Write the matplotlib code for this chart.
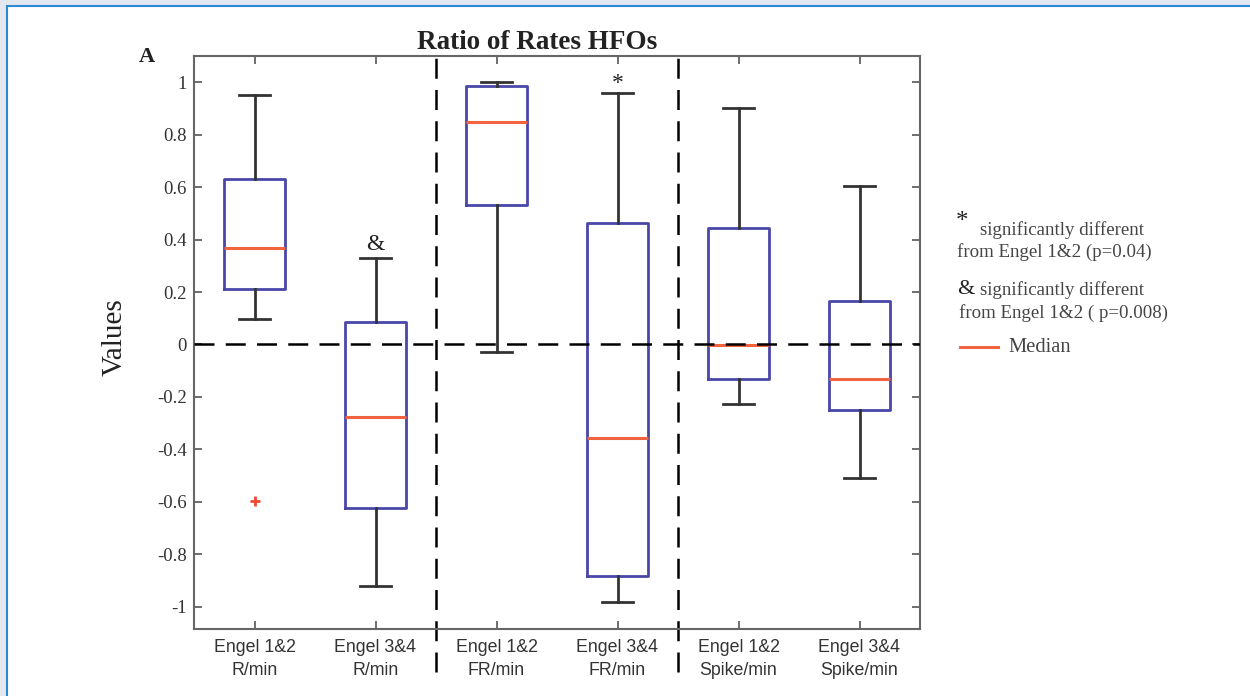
import matplotlib.pyplot as plt
from matplotlib.patches import Rectangle
from matplotlib.lines import Line2D

# values
groups = ["Engel 1&2\nR/min", "Engel 3&4\nR/min", "Engel 1&2\nFR/min",
          "Engel 3&4\nFR/min", "Engel 1&2\nSpike/min", "Engel 3&4\nSpike/min"]
whisker_low = [0.099, -0.92, -0.027, -0.983, -0.226, -0.51]
box_low = [0.21, -0.625, 0.533, -0.883, -0.13, -0.251]
medians = [0.366, -0.278, 0.849, -0.358, -0.003, -0.133]
box_high = [0.632, 0.084, 0.987, 0.465, 0.446, 0.164]
whisker_high = [0.952, 0.328, 1.0, 0.96, 0.90, 0.606]
outliers = [[-0.598], [], [], [], [], []]

yticks = [-1, -0.8, -0.6, -0.4, -0.2, 0, 0.2, 0.4, 0.6, 0.8, 1]
ytick_labels = ["-1", "-0.8", "-0.6", "-0.4", "-0.2", "0", "0.2", "0.4", "0.6", "0.8", "1"]
separators = [2.5, 4.5]
marks = [(2, 0.38, "&"), (4, 0.995, "*")]

box_col = "#4a47a8"
med_col = "#f2643f"
serif = ["Liberation Serif", "DejaVu Serif"]


def main():
    fig = plt.figure(figsize=(12.5, 6.96), dpi=100, facecolor="#e3e8f0")
    # white page with blue border like the source screenshot
    fig.patches.append(Rectangle((7 / 1250, -0.1), 1.2, 1.1 - 6 / 696, transform=fig.transFigure,
                                 facecolor="white", edgecolor="#2b8ad6", linewidth=1.5, zorder=-5))

    ax = fig.add_axes([0.1552, 0.0963, 0.5808, 0.8232])
    ax.set_facecolor("white")

    stats = []
    for i in range(len(groups)):
        stats.append(dict(med=medians[i], q1=box_low[i], q3=box_high[i],
                          whislo=whisker_low[i], whishi=whisker_high[i], fliers=outliers[i]))
    ax.bxp(stats, positions=range(1, 7), widths=0.5, showfliers=True,
           boxprops=dict(color=box_col, linewidth=2),
           medianprops=dict(color=med_col, linewidth=2.2),
           whiskerprops=dict(color="#333333", linewidth=2),
           capprops=dict(color="#333333", linewidth=2),
           flierprops=dict(marker="+", markeredgecolor="#f04a30", markersize=7, markeredgewidth=2))

    dash = (0, (8, 4.5))
    ax.axhline(0, color="black", linestyle=dash, linewidth=1.8, zorder=5)
    for s in separators:
        ax.axvline(s, ymin=-0.075, ymax=1, color="black", linestyle=dash,
                   linewidth=1.8, clip_on=False)

    for x, y, t in marks:
        ax.text(x, y, t, ha="center", va="center", fontsize=17, family=serif, color="#222222")

    ax.set_xlim(0.5, 6.5)
    ax.set_ylim(-1.085, 1.1)
    ax.set_xticks(range(1, 7))
    ax.set_xticklabels(groups, family=["Liberation Sans", "DejaVu Sans"], fontsize=12.8,
                       color="#333333", linespacing=1.45)
    ax.set_yticks(yticks)
    ax.set_yticklabels(ytick_labels, family=serif, fontsize=13.5, color="#333333")
    ax.tick_params(direction="in", length=6, width=1.2, color="#555555", top=True, right=True)
    ax.tick_params(axis="x", pad=7)
    ax.tick_params(axis="y", pad=5)
    for sp in ax.spines.values():
        sp.set_color("#666666")
        sp.set_linewidth(1.5)

    ax.set_ylabel("Values", family=serif, fontsize=21, color="#222222")
    ax.yaxis.set_label_coords(-0.091, 0.51)
    ax.text(0.472, 1.012, "Ratio of Rates HFOs", transform=ax.transAxes, ha="center", va="baseline",
            fontsize=19.5, fontweight="bold", family=serif, color="#222222")
    fig.text(147 / 1250, 1 - 57 / 696, "A", ha="center", va="center", fontsize=16,
             fontweight="bold", family=serif, color="#222222")

    # hand-made legend on the right
    lc = "#444444"
    fs = 13.6
    fig.text(962 / 1250, 1 - 222 / 696, "*", fontsize=18, family=serif, color="#222222", ha="center", va="center")
    fig.text(980 / 1250, 1 - 230 / 696, "significantly different", fontsize=fs, family=serif, color=lc, va="center")
    fig.text(957 / 1250, 1 - 252 / 696, "from Engel 1&2 (p=0.04)", fontsize=fs, family=serif, color=lc, va="center")
    fig.text(957 / 1250, 1 - 289 / 696, "&", fontsize=16, family=serif, color="#222222", va="center")
    fig.text(980 / 1250, 1 - 290 / 696, "significantly different", fontsize=fs, family=serif, color=lc, va="center")
    fig.text(959 / 1250, 1 - 313 / 696, "from Engel 1&2 ( p=0.008)", fontsize=fs, family=serif, color=lc, va="center")
    fig.add_artist(Line2D([960 / 1250, 998 / 1250], [1 - 347 / 696, 1 - 347 / 696],
                          color=med_col, linewidth=2.2, transform=fig.transFigure))
    fig.text(1008 / 1250, 1 - 347 / 696, "Median", fontsize=14.8, family=serif, color=lc, va="center")

    fig.savefig("out.png", dpi=100, facecolor=fig.get_facecolor())


if __name__ == '__main__':
    main()
